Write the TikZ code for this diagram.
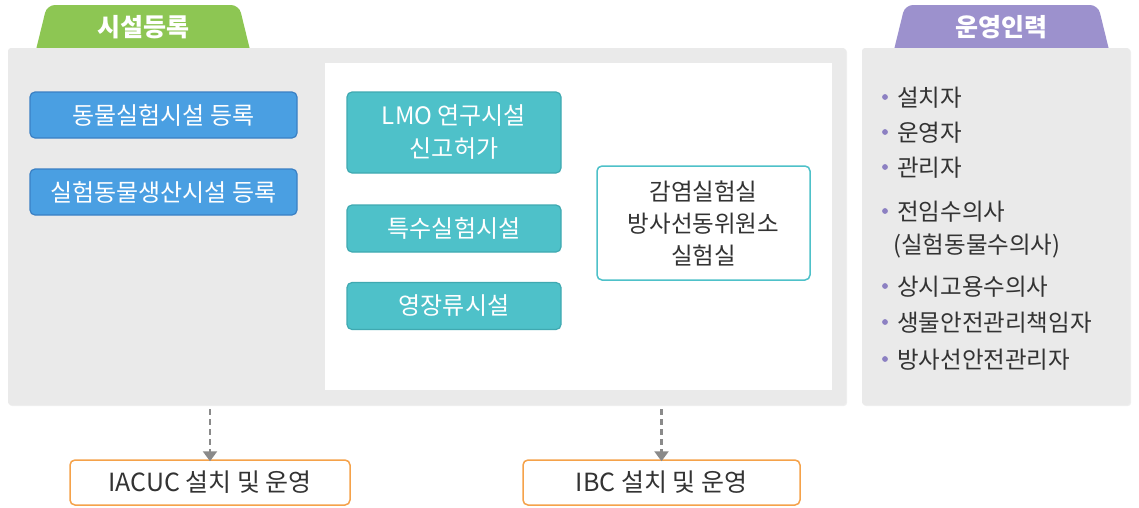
\documentclass[tikz,border=0pt]{standalone}
\usepackage{fontspec}
\setmainfont{Noto Sans CJK KR}
\usetikzlibrary{arrows.meta,shadows}
\definecolor{panelgray}{HTML}{EAEAEA}
\definecolor{tabgreen}{HTML}{8DC653}
\definecolor{tabpurple}{HTML}{9C91CD}
\definecolor{bluefill}{HTML}{4A9FE2}
\definecolor{blueline}{HTML}{3A80C4}
\definecolor{tealfill}{HTML}{4EC1C9}
\definecolor{tealline}{HTML}{3FA9B1}
\definecolor{orangeline}{HTML}{F5A24A}
\definecolor{arrowgray}{HTML}{8A8A8A}
\definecolor{bulletc}{HTML}{8C80C2}
\definecolor{textdark}{HTML}{333333}
\begin{document}
\begin{tikzpicture}[x=1pt,y=-1pt,
  panel/.style={fill=panelgray, rounded corners=3, inner sep=0,
    drop shadow={opacity=0.12, shadow xshift=1pt, shadow yshift=-1pt}},
  tabtext/.style={text=white, font=\fontsize{25}{28}\selectfont\bfseries},
  bluebox/.style={fill=bluefill, draw=blueline, line width=1.2pt, rounded corners=5,
    minimum width=267, minimum height=46, text=white, font=\fontsize{24}{28}\selectfont, inner sep=0},
  tealbox/.style={fill=tealfill, draw=tealline, line width=1.2pt, rounded corners=5,
    minimum width=214, minimum height=47, text=white, font=\fontsize{24}{33}\selectfont,
    inner sep=0, align=center},
  whitebox/.style={fill=white, draw=tealfill, line width=1.5pt, rounded corners=5,
    minimum width=213, minimum height=114, text=textdark, font=\fontsize{23.5}{32}\selectfont,
    inner sep=0, align=center},
  orangebox/.style={fill=white, draw=orangeline, line width=1.5pt, rounded corners=5,
    minimum height=45, text=textdark, font=\fontsize{25}{28}\selectfont, inner sep=0},
  listtext/.style={anchor=west, text=textdark, font=\fontsize{23.5}{27}\selectfont, inner sep=0},
  dasharrow/.style={draw=arrowgray, line width=2.4pt, dash pattern=on 6pt off 4pt,
    -{Triangle[length=10pt,width=14pt]}}
]
\useasboundingbox (0,0) rectangle (1139,507);
\fill[white] (0,0) rectangle (1139,507);

% tabs
\fill[tabgreen, rounded corners=8] (33,62) -- (47,5) -- (239,5) -- (253,62) -- cycle;
\fill[tabpurple, rounded corners=8] (891,62) -- (905,5) -- (1098,5) -- (1112,62) -- cycle;
\node[tabtext] (tabL) at (143,27) {시설등록};
\node[tabtext] (tabR) at (1001,27) {운영인력};

% panels
\node[panel, minimum width=838, minimum height=357] (left) at (427,226.5) {};
\node[panel, minimum width=268, minimum height=357] (right) at (996,226.5) {};
\fill[white] (325,63) rectangle (832,390);
\node[inner sep=0, minimum width=507, minimum height=327] (inner) at (578.5,226.5) {};

% blue boxes
\node[bluebox] (b1) at (163.5,115) {동물실험시설 등록};
\node[bluebox] (b2) at (163.5,192) {실험동물생산시설 등록};

% teal boxes
\node[tealbox, minimum height=81] (t1) at (454,132.5) {LMO 연구시설\\신고허가};
\node[tealbox] (t2) at (454,228.5) {특수실험시설};
\node[tealbox] (t3) at (454,306) {영장류시설};

% white box
\node[whitebox] (w1) at (703.5,223) {감염실험실\\방사선동위원소\\실험실};

% list
\foreach \yy/\tt/\nm in {98/설치자/l1, 133/운영자/l2, 168/관리자/l3, 212/전임수의사/l4,
   287/상시고용수의사/l6, 323/생물안전관리책임자/l7, 360/방사선안전관리자/l8}{
  \fill[bulletc] (885,\yy-1) circle (2.9);
  \node[listtext] (\nm) at (897,\yy) {\tt};
}
\node[listtext] (l5) at (893,246) {(실험동물수의사)};

% bottom boxes
\node[orangebox, minimum width=280] (iacuc) at (210,482.5) {IACUC 설치 및 운영};
\node[orangebox, minimum width=277] (ibc) at (661.5,482.5) {IBC 설치 및 운영};

% arrows
\draw[dasharrow] (left.south -| iacuc.north) ++(0,4) -- ([yshift=-2pt]iacuc.north);
\draw[dasharrow] (left.south -| ibc.north) ++(0,4) -- ([yshift=-2pt]ibc.north);
\end{tikzpicture}
\end{document}
